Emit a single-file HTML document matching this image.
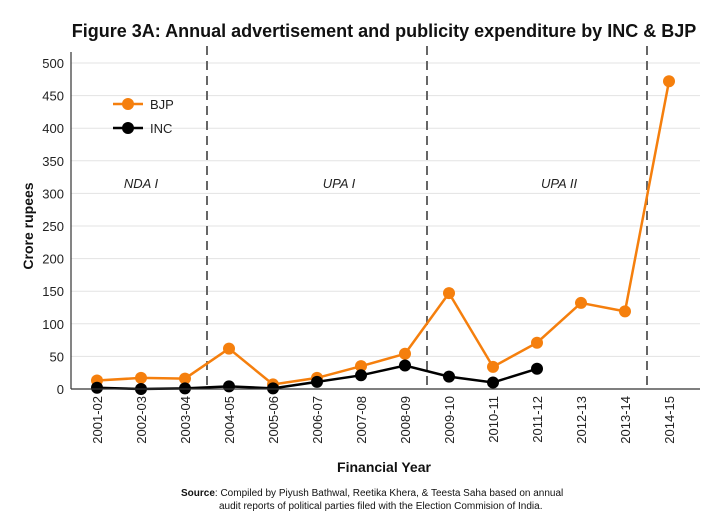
<!DOCTYPE html>
<html><head><meta charset="utf-8"><style>
body{margin:0;background:#fff;font-family:"Liberation Sans","DejaVu Sans",sans-serif;}
svg text{font-family:"Liberation Sans","DejaVu Sans",sans-serif;}
</style></head><body>
<svg id="chart" width="720" height="524" viewBox="0 0 720 524" xmlns="http://www.w3.org/2000/svg">
<text x="384" y="37" text-anchor="middle" font-size="18" font-weight="bold" fill="#111">Figure 3A: Annual advertisement and publicity expenditure by INC &amp; BJP</text>
<g id="grid"></g><g id="marks"></g><g id="axes"></g>
<text x="384" y="472" text-anchor="middle" font-size="14" font-weight="bold" fill="#111">Financial Year</text>
<text transform="translate(33,226) rotate(-90)" text-anchor="middle" font-size="14" font-weight="bold" fill="#111">Crore rupees</text>
<text font-size="10" fill="#111"><tspan x="181" y="496"><tspan font-weight="bold">Source</tspan>: Compiled by Piyush Bathwal, Reetika Khera, &amp; Teesta Saha based on annual</tspan><tspan x="219" y="509">audit reports of political parties filed with the Election Commision of India.</tspan></text>
<g>
<line x1="113" y1="104" x2="143" y2="104" stroke="#f57f0d" stroke-width="2.5"/><circle cx="128" cy="104" r="6" fill="#f57f0d"/>
<text x="150" y="109" font-size="13" fill="#222">BJP</text>
<line x1="113" y1="128" x2="143" y2="128" stroke="#000" stroke-width="2.5"/><circle cx="128" cy="128" r="6" fill="#000"/>
<text x="150" y="133" font-size="13" fill="#222">INC</text>
</g>
</svg>
<script>
const years=["2001-02","2002-03","2003-04","2004-05","2005-06","2006-07","2007-08","2008-09","2009-10","2010-11","2011-12","2012-13","2013-14","2014-15"];
const bjp=[13,17,16,62,7,17,35,54,147,34,71,132,119,472];
const inc=[2,0,1,4,1,11,21,36,19,10,31];
const yTicks=[0,50,100,150,200,250,300,350,400,450,500];
const eras=["NDA I","UPA I","UPA II"];
const eraCenters=[1,5.5,10.5];
const dividers=[2.5,7.5,12.5];
const NS="http://www.w3.org/2000/svg";
const X=i=>97+i*44, Y=v=>389-v*0.652;
function mk(p,t,a){const e=document.createElementNS(NS,t);for(const k in a)e.setAttribute(k,a[k]);p.appendChild(e);return e;}
const grid=document.getElementById('grid'),marks=document.getElementById('marks'),axes=document.getElementById('axes');
yTicks.forEach(v=>{
 if(v>0){const g=mk(grid,'line',{x1:71,x2:700,y1:Y(v),y2:Y(v),stroke:'#e3e3e3','stroke-width':1});
 
 }
 const t=mk(axes,'text',{x:64,y:Y(v)+5,'text-anchor':'end','font-size':13,fill:'#222'});t.textContent=v;
 
 
});
dividers.forEach(d=>{const l=mk(grid,'line',{x1:X(d),x2:X(d),y1:46,y2:389,stroke:'#666','stroke-width':2,'stroke-dasharray':'9,6'});
 
 });
eras.forEach((e,i)=>{const t=mk(grid,'text',{x:X(eraCenters[i]),y:188,'text-anchor':'middle','font-size':13,'font-style':'italic',fill:'#222'});t.textContent=e;
 
 });
mk(axes,'line',{x1:71,x2:71,y1:52,y2:389,stroke:'#333','stroke-width':1.2});
mk(axes,'line',{x1:71,x2:700,y1:389,y2:389,stroke:'#333','stroke-width':1.2});
years.forEach((y,i)=>{const t=mk(axes,'text',{transform:`translate(${X(i)+5},396) rotate(-90)`,'text-anchor':'end','font-size':13,fill:'#222'});t.textContent=y;
 
 });
function series(data,color,name){
 const p=mk(marks,'polyline',{points:data.map((v,i)=>X(i)+','+Y(v)).join(' '),fill:'none',stroke:color,'stroke-width':2.5});
 
 
 data.forEach((v,i)=>{const c=mk(marks,'circle',{cx:X(i),cy:Y(v),r:6,fill:color});
 
 });
}
series(bjp,'#f57f0d','bjp');
series(inc,'#000','inc');
</script>
</body></html>
